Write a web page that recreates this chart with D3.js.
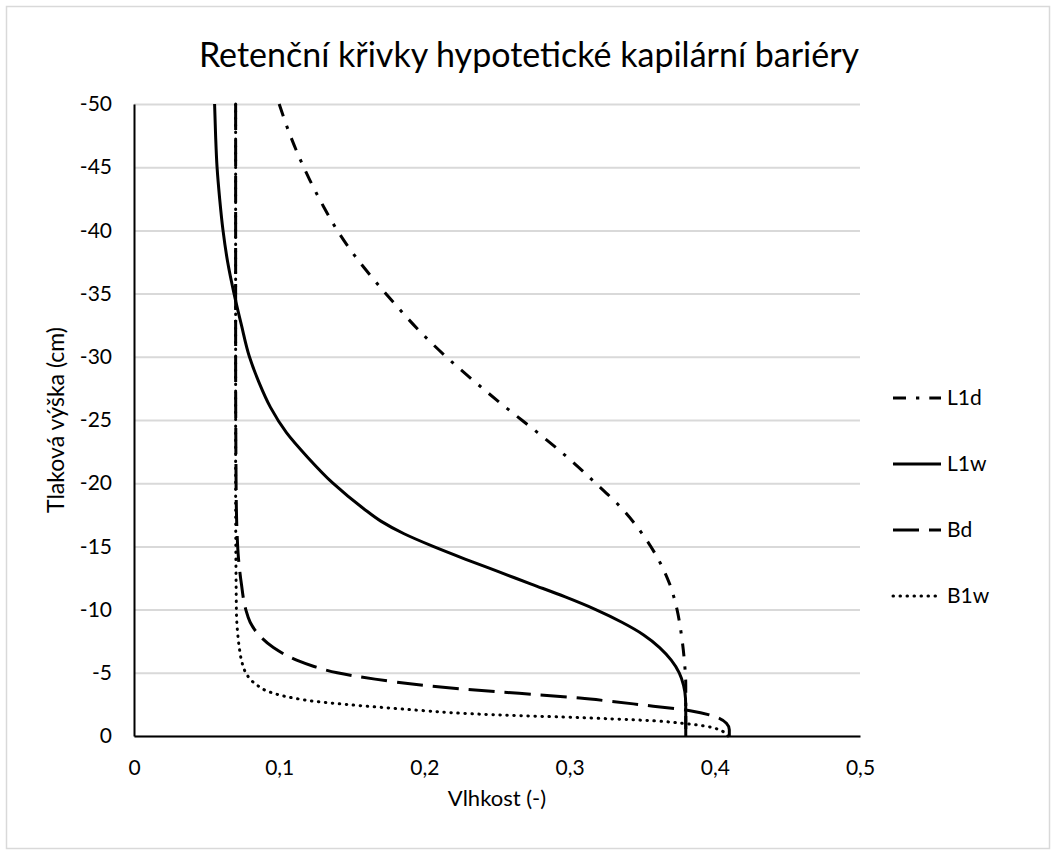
<!DOCTYPE html>
<html>
<head>
<meta charset="utf-8">
<script src="https://cdn.jsdelivr.net/npm/d3@7"></script>
<style>
  html, body { margin: 0; padding: 0; background: #fff; }
  svg { display: block; }
  text { font-family: Lato, "Open Sans", sans-serif; fill: #000; }
</style>
</head>
<body>
<svg id="chart"></svg>
<script>
// pressure head h (cm) and water content theta
const l1d = [
  [0.100, -50], [0.106, -48], [0.113, -46], [0.121, -44], [0.130, -42], [0.140, -40],
  [0.152, -38], [0.166, -36], [0.181, -34], [0.197, -32], [0.215, -30], [0.235, -28],
  [0.256, -26], [0.278, -24], [0.299, -22], [0.318, -20], [0.336, -18], [0.350, -16],
  [0.361, -14], [0.369, -12], [0.374, -10], [0.377, -8], [0.379, -6], [0.380, -4],
  [0.380, -2], [0.380, 0]
];
const l1w = [
  [0.0555, -50], [0.0562, -47.5], [0.0572, -45], [0.0590, -42.5], [0.0613, -40],
  [0.0645, -37.5], [0.0689, -35], [0.0740, -32.5], [0.0795, -30], [0.086, -28],
  [0.094, -26], [0.105, -24], [0.120, -22], [0.137, -20], [0.158, -18], [0.170, -17],
  [0.186, -16], [0.206, -15], [0.228, -14], [0.251, -13], [0.274, -12], [0.297, -11],
  [0.318, -10], [0.336, -9], [0.351, -8], [0.362, -7], [0.370, -6], [0.3755, -5],
  [0.3785, -4], [0.3798, -3], [0.380, -2], [0.380, 0]
];
const bd = [
  [0.070, -50], [0.070, -30], [0.0703, -20], [0.071, -16], [0.072, -14], [0.074, -12],
  [0.077, -10], [0.080, -9], [0.086, -8], [0.096, -7], [0.112, -6], [0.124, -5.5],
  [0.140, -5], [0.166, -4.5], [0.200, -4], [0.250, -3.5], [0.280, -3.25], [0.307, -3],
  [0.328, -2.75], [0.347, -2.5], [0.383, -2], [0.401, -1.5], [0.408, -1], [0.410, -0.5],
  [0.410, 0]
];
const b1w = [
  [0.070, -50], [0.070, -20], [0.0705, -10], [0.0715, -8], [0.0725, -7], [0.074, -6],
  [0.077, -5], [0.080, -4.5], [0.085, -4], [0.093, -3.5], [0.110, -3], [0.124, -2.75],
  [0.146, -2.5], [0.172, -2.25], [0.200, -2], [0.225, -1.8], [0.255, -1.65], [0.295, -1.5],
  [0.330, -1.35], [0.358, -1.2], [0.378, -1], [0.395, -0.75], [0.403, -0.5], [0.407, -0.25],
  [0.409, 0]
];

const seriesNames = ['L1d', 'L1w', 'Bd', 'B1w'];
const xTicks = [0, 0.1, 0.2, 0.3, 0.4, 0.5];
const yTicks = [0, -5, -10, -15, -20, -25, -30, -35, -40, -45, -50];

const title = 'Retenční křivky hypotetické kapilární bariéry';
const xTitle = 'Vlhkost (-)';
const yTitle = 'Tlaková výška (cm)';

const width = 1056;
const height = 855;
const plot = { left: 134, right: 860, top: 104, bottom: 736 };

const svg = d3.select('#chart').attr('width', width).attr('height', height);

// chart area border
svg.append('rect')
  .attr('x', 6.5).attr('y', 6.5)
  .attr('width', width - 13).attr('height', height - 13)
  .attr('fill', '#fff').attr('stroke', '#d9d9d9').attr('stroke-width', 1.5);

const x = d3.scaleLinear().domain([0, 0.5]).range([plot.left, plot.right]);
const y = d3.scaleLinear().domain([0, -50]).range([plot.bottom, plot.top]);

const fmt = v => String(v).replace('.', ',');

// gridlines
svg.append('g')
  .attr('transform', `translate(${plot.left},0)`)
  .call(d3.axisLeft(y).tickValues(yTicks).tickSize(-(plot.right - plot.left)).tickFormat(''))
  .call(g => g.select('.domain').remove())
  .call(g => g.selectAll('line').attr('stroke', '#d9d9d9').attr('stroke-width', 2));

// y axis
svg.append('g')
  .attr('transform', `translate(${plot.left},0)`)
  .call(d3.axisLeft(y).tickValues(yTicks).tickSize(0).tickPadding(22).tickFormat(fmt))
  .call(g => g.select('.domain').attr('stroke', '#000').attr('stroke-width', 2))
  .call(g => g.selectAll('text').style('font-size', '21px'));

// x axis
svg.append('g')
  .attr('transform', `translate(0,${plot.bottom})`)
  .call(d3.axisBottom(x).tickValues(xTicks).tickSize(0).tickPadding(24).tickFormat(fmt))
  .call(g => g.select('.domain').attr('stroke', '#000').attr('stroke-width', 2))
  .call(g => g.selectAll('text').style('font-size', '21px'));

const line = d3.line()
  .x(d => x(d[0]))
  .y(d => y(d[1]))
  .curve(d3.curveMonotoneY);

const styles = {
  L1d: { data: l1d, dash: '13,10,3.3,10', cap: 'butt' },
  L1w: { data: l1w, dash: null, cap: 'butt' },
  Bd: { data: bd, dash: '26,10', cap: 'butt' },
  B1w: { data: b1w, dash: '0.5,6.5', cap: 'round' }
};

seriesNames.forEach(name => {
  const s = styles[name];
  svg.append('path')
    .datum(s.data)
    .attr('d', line)
    .attr('fill', 'none')
    .attr('stroke', '#000')
    .attr('stroke-width', 3)
    .attr('stroke-linecap', s.cap)
    .attr('stroke-dasharray', s.dash);
});

// legend
const legend = svg.append('g').attr('transform', 'translate(893,398)');
seriesNames.forEach((name, i) => {
  const s = styles[name];
  const row = legend.append('g').attr('transform', `translate(0,${i * 66})`);
  row.append('line')
    .attr('x1', 0).attr('x2', 48)
    .attr('stroke', '#000').attr('stroke-width', 3)
    .attr('stroke-linecap', s.cap)
    .attr('stroke-dasharray', s.dash);
  row.append('text')
    .attr('x', 54).attr('dy', '0.35em')
    .style('font-size', '21px')
    .text(name);
});

// titles
svg.append('text')
  .attr('x', 529).attr('y', 67)
  .attr('text-anchor', 'middle')
  .style('font-size', '34px')
  .text(title);

svg.append('text')
  .attr('x', (plot.left + plot.right) / 2).attr('y', 806)
  .attr('text-anchor', 'middle')
  .style('font-size', '22px')
  .text(xTitle);

svg.append('text')
  .attr('transform', `translate(64,${(plot.top + plot.bottom) / 2}) rotate(-90)`)
  .attr('text-anchor', 'middle')
  .style('font-size', '23px')
  .text(yTitle);
</script>
</body>
</html>
